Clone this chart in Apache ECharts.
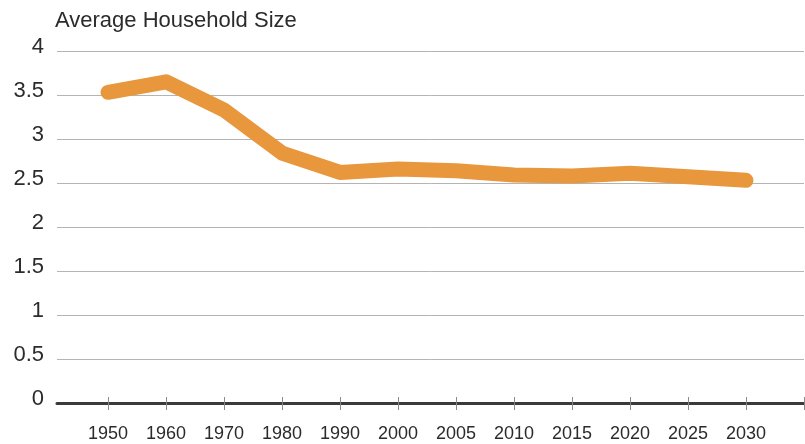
<!DOCTYPE html>
<html>
<head>
<meta charset="utf-8">
<script src="https://cdn.jsdelivr.net/npm/echarts@6/dist/echarts.min.js"></script>
<style>
  html, body { margin: 0; padding: 0; background: #fff; }
  #chart { width: 805px; height: 444px; }
</style>
</head>
<body>
<div id="chart"></div>
<script>
// Census years / projections on the horizontal axis
const years = ['1950', '1960', '1970', '1980', '1990', '2000', '2005', '2010', '2015', '2020', '2025', '2030'];
// Average number of persons per household
const householdSize = [3.53, 3.65, 3.33, 2.84, 2.62, 2.66, 2.64, 2.59, 2.58, 2.61, 2.57, 2.53];
// Vertical axis ticks
const yTicks = [0, 0.5, 1, 1.5, 2, 2.5, 3, 3.5, 4];

const seriesData = householdSize.map((v, i) => [i, v]);
const tickPositions = years.map((_, i) => i).concat([years.length]);

const chart = echarts.init(document.getElementById('chart'), null, { renderer: 'canvas' });

const fontFamily = '"Liberation Sans", Arial, sans-serif';

chart.setOption({
  animation: false,
  backgroundColor: '#ffffff',
  title: {
    text: 'Average Household Size',
    left: 50,
    top: 5,
    textStyle: { fontFamily, fontSize: 22, fontWeight: 'normal', color: '#2b2b2b' }
  },
  grid: { left: 57, right: 1, top: 51, bottom: 41, containLabel: false },
  xAxis: [{
    type: 'value',
    min: -0.88,
    max: years.length,
    axisLine: { show: true, lineStyle: { color: '#3a3a3a', width: 3 } },
    axisTick: {
      show: true,
      length: 7,
      customValues: tickPositions,
      lineStyle: { color: '#8a8a8a', width: 1 }
    },
    axisLabel: {
      show: true,
      customValues: years.map((_, i) => i),
      formatter: v => years[Math.round(v)] || '',
      fontFamily,
      fontSize: 18,
      color: '#2b2b2b',
      margin: 22
    },
    splitLine: { show: false }
  }, {
    // inner half of the crossing tick marks
    type: 'value',
    position: 'bottom',
    min: -0.88,
    max: years.length,
    axisLine: { show: false },
    axisTick: {
      show: true,
      inside: true,
      length: 6,
      customValues: tickPositions,
      lineStyle: { color: '#8a8a8a', width: 1 }
    },
    axisLabel: { show: false },
    splitLine: { show: false }
  }],
  yAxis: {
    type: 'value',
    min: yTicks[0],
    max: yTicks[yTicks.length - 1],
    interval: 0.5,
    axisLine: { show: false },
    axisTick: { show: false },
    axisLabel: {
      fontFamily,
      fontSize: 22,
      color: '#2b2b2b',
      margin: 13,
      verticalAlign: 'bottom',
      lineHeight: 9,
      formatter: v => String(v)
    },
    splitLine: { show: true, lineStyle: { color: '#b4b4b4', width: 1 } }
  },
  series: [{
    type: 'line',
    data: seriesData,
    showSymbol: false,
    symbol: 'none',
    lineStyle: { color: '#E8973D', width: 15, cap: 'round', join: 'round' },
    z: 3
  }]
});
</script>
</body>
</html>
